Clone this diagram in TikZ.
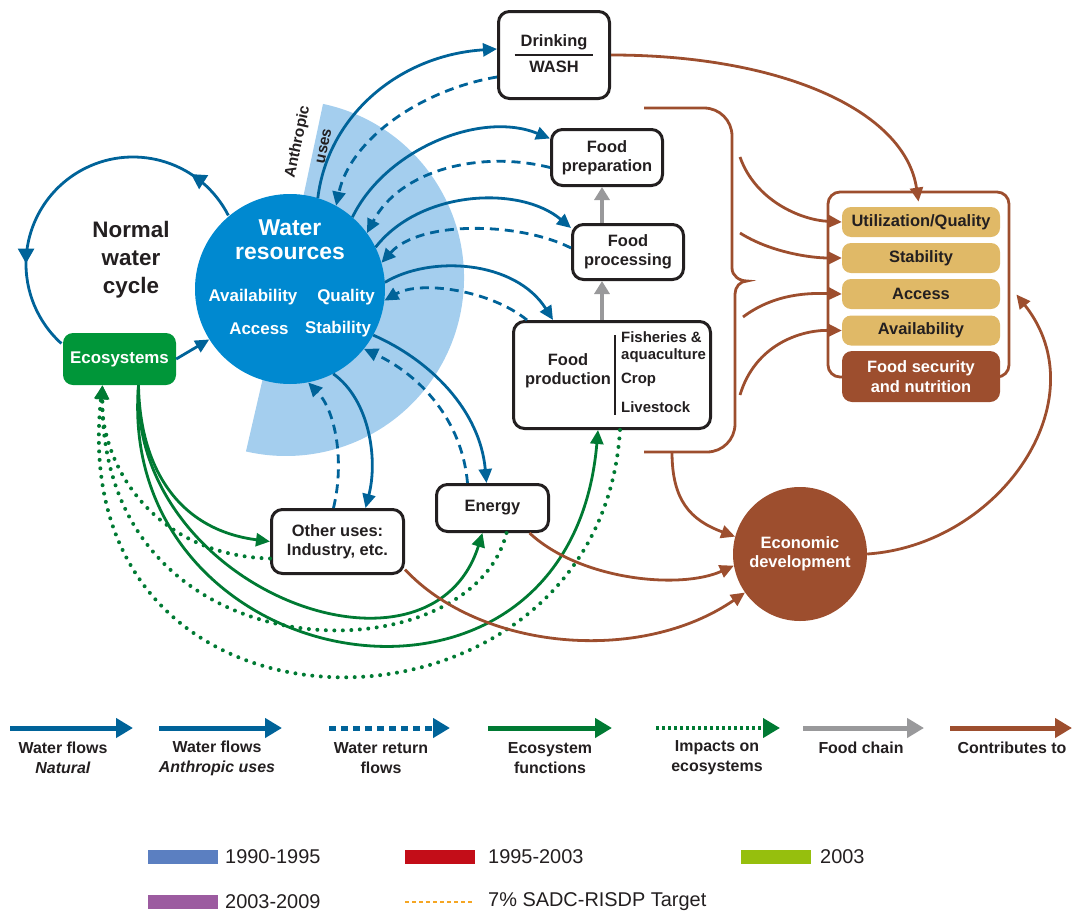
\documentclass[tikz,border=0pt]{standalone}
\usepackage{fontspec}
\setmainfont{Liberation Sans}
\usetikzlibrary{arrows.meta,decorations.markings}
\newcommand\lblfont{\fontsize{16.5}{19.5}\selectfont\bfseries}
\begin{document}
\begin{tikzpicture}[x=1bp,y=1bp,
  headtip/.style={-{Triangle[length=14bp,width=13bp]}},
  legtip/.style={-{Triangle[length=17bp,width=19bp]}},
  flowline/.style={draw=flowblue,line width=2.8bp},
  natural/.style={flowline,headtip},
  anthropic/.style={flowline,headtip},
  returnflow/.style={flowline,dash pattern=on 9bp off 6bp,headtip},
  ecofunc/.style={draw=ecogreen,line width=2.8bp,headtip},
  impact/.style={draw=ecogreen,line width=4bp,line cap=round,dash pattern=on 0bp off 8.5bp,headtip},
  foodchain/.style={draw=chaingrey,line width=3.5bp,-{Triangle[length=13bp,width=15bp]}},
  contrib/.style={draw=contribbrown,line width=2.8bp,headtip},
  cyclemarks/.style={postaction={decorate},decoration={markings,
    mark=at position 0.15 with {\arrow{Triangle[length=15bp,width=16bp]}},
    mark=at position 0.76 with {\arrow{Triangle[length=15bp,width=16bp]}}}},
  usebox/.style={draw=boxline,line width=3bp,rounded corners=11bp,fill=white,
    align=center,text=boxline,font=\lblfont},
  boxtext/.style={align=center,text=boxline,font=\lblfont},
  itemtext/.style={anchor=west,inner sep=2bp,align=left,text=boxline,
    font=\fontsize{15}{17}\selectfont\bfseries},
  wrcircle/.style={circle,fill=wrblue,minimum size=190bp,inner sep=0pt},
  wrtitle/.style={align=center,text=white,font=\fontsize{23}{24}\selectfont\bfseries},
  wrtext/.style={text=white,font=\fontsize{17}{20}\selectfont\bfseries},
  sectortext/.style={rotate=78,inner sep=0pt,text=boxline,
    font=\fontsize{15.5}{18}\selectfont\bfseries},
  cycletext/.style={align=center,text=boxline,font=\fontsize{22.5}{28}\selectfont\bfseries},
  ecobox/.style={fill=ecobright,rounded corners=10bp,minimum width=113bp,
    minimum height=52bp,text=white,font=\fontsize{17}{20}\selectfont\bfseries},
  econ/.style={circle,fill=contribbrown,minimum size=134bp,inner sep=0pt,
    align=center,text=white,font=\lblfont},
  fsframe/.style={draw=contribbrown,line width=2.8bp,rounded corners=12bp,
    minimum width=181bp,minimum height=185bp},
  pillar/.style={fill=pillaryellow,rounded corners=9bp,minimum width=158bp,
    minimum height=30bp,inner sep=0pt,text=boxline,font=\lblfont},
  fsbox/.style={fill=contribbrown,rounded corners=10bp,minimum width=158bp,
    minimum height=51bp,inner sep=0pt,align=center,text=white,font=\lblfont},
  legtext/.style={align=center,text=boxline,font=\fontsize{16}{20}\selectfont\bfseries},
  periodtext/.style={anchor=west,inner sep=0pt,text=boxline,font=\fontsize{20}{22}\selectfont}
]
\definecolor{flowblue}{RGB}{0,99,153}
\definecolor{wrblue}{RGB}{0,137,208}
\definecolor{sectorblue}{RGB}{164,206,238}
\definecolor{ecogreen}{RGB}{0,122,51}
\definecolor{ecobright}{RGB}{0,150,57}
\definecolor{contribbrown}{RGB}{157,78,46}
\definecolor{pillaryellow}{RGB}{224,185,103}
\definecolor{chaingrey}{RGB}{153,153,155}
\definecolor{boxline}{RGB}{35,31,32}
\definecolor{period1}{RGB}{91,127,193}
\definecolor{period2}{RGB}{195,13,24}
\definecolor{period3}{RGB}{150,191,13}
\definecolor{period4}{RGB}{156,91,160}
\definecolor{targetorange}{RGB}{245,166,35}
\useasboundingbox (0,0) rectangle (1073,-911);
\fill[sectorblue] (286,-278) -- ++(78:178) arc[start angle=78,end angle=-103,radius=178] -- cycle;
\coordinate (nwcc) at (133,-264);
\draw[flowline,cyclemarks] ([shift={(27:107)}]nwcc) arc[start angle=27,end angle=228,radius=107];
\node[wrcircle] (wr) at (290,-289) {};
\node[wrtitle] (wrname) at (290,-240) {Water\\resources};
\node[wrtext] (wravail) at (253,-297) {Availability};
\node[wrtext] (wrqual) at (346,-297) {Quality};
\node[wrtext] (wracc) at (259,-329) {Access};
\node[wrtext] (wrstab) at (338,-329) {Stability};
\node[sectortext] (anthro) at (298,-142) {Anthropic};
\node[sectortext] (uses) at (324,-146) {uses};
\node[cycletext] (nwc) at (131,-260) {Normal\\water\\cycle};
\node[ecobox] (eco) at (119.5,-359) {Ecosystems};
\node[usebox,minimum width=111bp,minimum height=87bp] (drink) at (554,-55)
  {\setlength\arrayrulewidth{1.5bp}\renewcommand\arraystretch{1.25}%
   \begin{tabular}{@{\hspace{6bp}}c@{\hspace{6bp}}}Drinking\\\hline WASH\end{tabular}};
\node[usebox,minimum width=111bp,minimum height=56bp] (prep) at (607,-157.5) {Food\\preparation};
\node[usebox,minimum width=111bp,minimum height=55bp] (proc) at (628,-252) {Food\\processing};
\node[usebox,minimum width=197bp,minimum height=107bp] (prod) at (612,-375) {};
\node[boxtext] (prodname) at (568,-370.5) {Food\\production};
\node[itemtext] (fish) at (619,-347.5) {Fisheries \&\\aquaculture};
\node[itemtext] (crop) at (619,-380) {Crop};
\node[itemtext] (live) at (619,-407) {Livestock};
\draw[boxline,line width=1.5bp] (615,-335) -- (615,-415);
\node[usebox,minimum width=112bp,minimum height=47bp] (energy) at (492.5,-508) {Energy};
\node[usebox,minimum width=132bp,minimum height=64bp] (other) at (337.5,-541.5) {Other uses:\\Industry, etc.};
\node[econ] (econ) at (800,-554) {Economic\\development};
\node[fsframe] (fsf) at (918.5,-284.5) {};
\node[pillar] (util) at (921,-222) {Utilization/Quality};
\node[pillar] (stab) at (921,-258) {Stability};
\node[pillar] (acc) at (921,-294) {Access};
\node[pillar] (avail) at (921,-330.5) {Availability};
\node[fsbox] (fsn) at (921,-376.5) {Food security\\and nutrition};
\draw[natural] (eco.east) -- (wr.212);
\draw[anthropic] (wr.73) .. controls (328,-115) and (400,-55) .. ([yshift=6bp]drink.west);
\draw[returnflow] ([yshift=-22bp]drink.west) .. controls (420,-90) and (350,-140) .. (wr.61);
\draw[anthropic] (wr.49) .. controls (385,-150) and (480,-110) .. ([yshift=19bp]prep.west);
\draw[returnflow] ([yshift=-10bp]prep.west) .. controls (480,-150) and (400,-170) .. (wr.36);
\draw[anthropic] (wr.26) .. controls (420,-190) and (520,-185) .. ([yshift=24bp]proc.west);
\draw[returnflow] ([yshift=4bp]proc.west) .. controls (520,-222) and (420,-220) .. (wr.16);
\draw[anthropic] (wr.4) .. controls (430,-255) and (515,-260) .. ([xshift=-59bp]prod.north);
\draw[returnflow] ([xshift=-85bp]prod.north) .. controls (490,-290) and (420,-280) .. (wr.-7);
\draw[anthropic] (wr.-29) .. controls (430,-360) and (480,-410) .. ([xshift=-6bp]energy.north);
\draw[returnflow] ([xshift=-25bp]energy.north) .. controls (462,-420) and (420,-375) .. (wr.-39);
\draw[anthropic] (wr.-63) .. controls (370,-400) and (378,-460) .. ([xshift=28bp]other.north);
\draw[returnflow] ([xshift=-4bp]other.north) .. controls (345,-460) and (335,-410) .. (wr.-79);
\draw[ecofunc] ([xshift=19bp]eco.south) .. controls (140,-470) and (180,-530) .. (other.west);
\draw[ecofunc] ([xshift=19bp]eco.south) .. controls (130,-590) and (430,-700) .. ([xshift=-10bp]energy.south);
\draw[ecofunc] ([xshift=19bp]eco.south) .. controls (115,-680) and (570,-760) .. ([xshift=-14bp]prod.south);
\draw[impact] ([yshift=-17bp]other.west) .. controls (150,-555) and (100,-460) .. ([xshift=-17bp]eco.south);
\draw[impact] ([xshift=14bp]energy.south) .. controls (470,-680) and (100,-680) .. ([xshift=-17bp]eco.south);
\draw[impact] ([xshift=8bp]prod.south) .. controls (600,-760) and (60,-770) .. ([xshift=-17bp]eco.south);
\coordinate (chain) at (602,0);
\draw[foodchain] (prod.north -| chain) -- (proc.south -| chain);
\draw[foodchain] (proc.north -| chain) -- (prep.south -| chain);
\draw[contribbrown,line width=2.8bp] (644,-108) -- (704,-108) to[out=0,in=90] (732,-136) -- (732,-268)
  to[out=-90,in=180] (747,-281) to[out=180,in=90] (735,-294) -- (735,-424)
  to[out=-90,in=0] (707,-452) -- (644,-452);
\coordinate (brace1) at (740,-157);
\coordinate (brace2) at (740,-233);
\coordinate (brace3) at (743,-317);
\coordinate (brace4) at (740,-395);
\coordinate (bracefoot) at (672,-452);
\draw[contrib] (drink.east) .. controls (780,-55) and (905,-110) .. ([yshift=-11bp]fsf.north);
\draw[contrib] (brace1) .. controls (755,-200) and (800,-220) .. (util.west);
\draw[contrib] (brace2) .. controls (770,-252) and (810,-258) .. (stab.west);
\draw[contrib] (brace3) .. controls (775,-293) and (810,-293) .. (acc.west);
\draw[contrib] (brace4) .. controls (755,-345) and (800,-330) .. (avail.west);
\draw[contrib] (bracefoot) .. controls (672,-500) and (690,-520) .. (econ.165);
\draw[contrib] ([xshift=37bp]energy.south) .. controls (580,-580) and (680,-590) .. (econ.190);
\draw[contrib] ([yshift=-28bp]other.east) .. controls (480,-650) and (640,-665) .. (econ.215);
\draw[contrib] (econ.east) .. controls (1000,-545) and (1100,-400) .. ([xshift=6bp,yshift=-10bp]fsf.east);
\draw[flowline,legtip,line width=5bp] (10,-728) -- (133,-728);
\draw[flowline,legtip,line width=5bp] (159,-728) -- (282,-728);
\draw[flowline,legtip,line width=5bp,dash pattern=on 7bp off 5bp] (329,-728) -- (450,-728);
\draw[draw=ecogreen,legtip,line width=5bp] (488,-728) -- (612,-728);
\draw[draw=ecogreen,legtip,line width=4bp,dash pattern=on 3bp off 3bp] (656,-728) -- (780,-728);
\draw[draw=chaingrey,legtip,line width=5bp] (803,-728) -- (924,-728);
\draw[draw=contribbrown,legtip,line width=5bp] (950,-728) -- (1072,-728);
\node[legtext] (lgnat) at (63,-758) {Water flows\\\textit{Natural}};
\node[legtext] (lganth) at (217,-758) {Water flows\\\textit{Anthropic uses}};
\node[legtext] (lgret) at (381,-758) {Water return\\flows};
\node[legtext] (lgeco) at (550,-758) {Ecosystem\\functions};
\node[legtext] (lgimp) at (717,-758) {Impacts on\\ecosystems};
\node[legtext] (lgchain) at (861,-748) {Food chain};
\node[legtext] (lgcont) at (1012,-748) {Contributes to};
\fill[period1] (148,-850) rectangle (218,-864);
\node[periodtext] (p1) at (225,-857) {1990-1995};
\fill[period2] (405,-850) rectangle (475,-864);
\node[periodtext] (p2) at (488,-857) {1995-2003};
\fill[period3] (741,-850) rectangle (811,-864);
\node[periodtext] (p3) at (820,-857) {2003};
\fill[period4] (148,-895) rectangle (218,-909);
\node[periodtext] (p4) at (225,-902) {2003-2009};
\draw[targetorange,line width=2bp,dash pattern=on 4bp off 3bp] (405,-902) -- (474,-902);
\node[periodtext] (p5) at (488,-902) {7\% SADC-RISDP Target};
\end{tikzpicture}
\end{document}
